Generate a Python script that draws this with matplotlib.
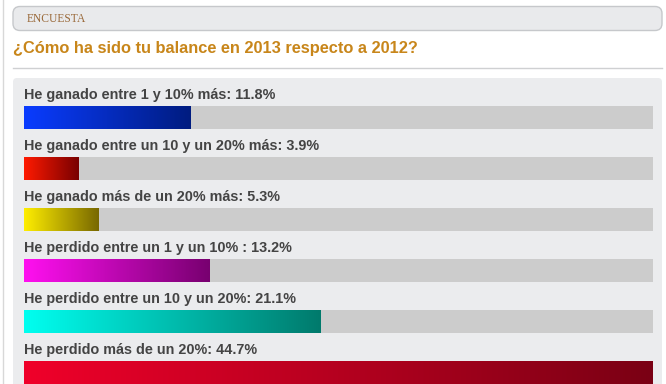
import numpy as np
import matplotlib.pyplot as plt
from matplotlib.patches import FancyBboxPatch, Rectangle
from matplotlib.colors import LinearSegmentedColormap

# Poll data
labels = [
    'He ganado entre 1 y 10% más: 11.8%',
    'He ganado entre un 10 y un 20% más: 3.9%',
    'He ganado más de un 20% más: 5.3%',
    'He perdido entre un 1 y un 10% : 13.2%',
    'He perdido entre un 10 y un 20%: 21.1%',
    'He perdido más de un 20%: 44.7%',
]
values = [11.8, 3.9, 5.3, 13.2, 21.1, 44.7]
# gradient start / end colours for each bar
start_colors = ['#0a3cff', '#ff1a00', '#ffee00', '#ff10f0', '#00fff0', '#f0002a']
end_colors = ['#001c80', '#780000', '#786800', '#780070', '#007a6c', '#7a0014']

W, H = 666, 384
fig = plt.figure(figsize=(W / 100, H / 100), dpi=100)
fig.patch.set_facecolor('white')

# background axes in pixel units for the page decoration
bg = fig.add_axes([0, 0, 1, 1])
bg.set_xlim(0, W)
bg.set_ylim(H, 0)
bg.axis('off')

bg.plot([3, 3], [0, H], color='#d8d8d8', lw=1)
bg.add_patch(FancyBboxPatch((13, 6.5), 649, 24, boxstyle='round,pad=0,rounding_size=7',
                            fc='#e9eaec', ec='#c6c8cb', lw=1))
bg.text(27, 18.5, 'ENCUESTA', family='Liberation Serif', fontsize=8.3,
        color='#9a6a3a', va='center', ha='left')
bg.text(13, 49, '¿Cómo ha sido tu balance en 2013 respecto a 2012?',
        family='Liberation Sans', fontweight='bold', fontsize=11.8,
        color='#c8861a', va='center', ha='left')
bg.plot([13, 662], [67.5, 67.5], color='#cfd0d2', lw=1)
bg.add_patch(FancyBboxPatch((13, 78), 649, 320, boxstyle='round,pad=0,rounding_size=4',
                            fc='#ebecee', ec='none'))

# bar axes
ax = fig.add_axes([24 / W, 0, (653 - 24) / W, (H - 78) / H])
ax.set_xlim(0, max(values))
ax.set_ylim(len(values), 0)
ax.axis('off')

bar_top = 28 / 51
for i, (lab, v, c0, c1) in enumerate(zip(labels, values, start_colors, end_colors)):
    ax.add_patch(Rectangle((0, i + bar_top), max(values), 1 - bar_top,
                           fc='#cccccc', ec='none', zorder=1))
    cmap = LinearSegmentedColormap.from_list('g%d' % i, [c0, c1])
    grad = np.linspace(0, 1, 256).reshape(1, -1)
    ax.imshow(grad, cmap=cmap, aspect='auto', extent=[0, v, i + 1, i + bar_top],
              interpolation='bilinear', zorder=2)
    ax.text(0, i + 17 / 51, lab, family='Liberation Sans', fontweight='bold',
            fontsize=10.4, color='#444444', va='center', ha='left')

ax.set_xlim(0, max(values))
ax.set_ylim(len(values), 0)

fig.savefig('out.png', dpi=100)
